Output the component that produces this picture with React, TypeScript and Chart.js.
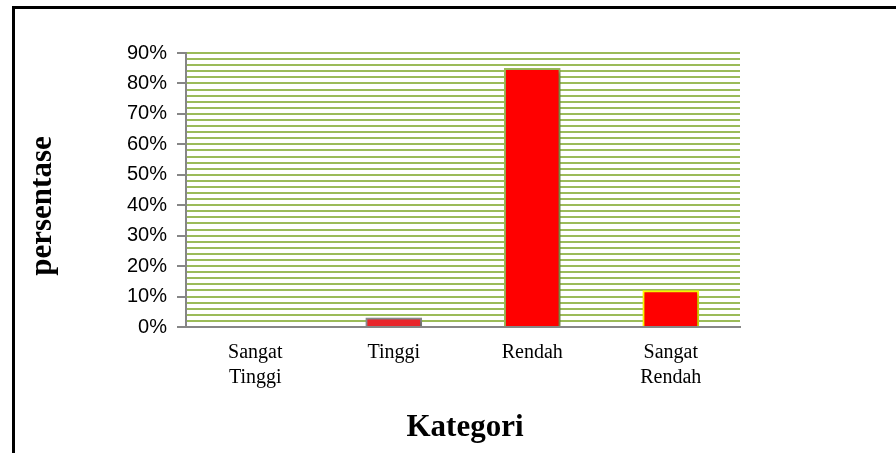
import React, { useEffect, useRef } from "react";
import { Chart, registerables } from "chart.js";

Chart.register(...registerables);

const categories: string[][] = [["Sangat", "Tinggi"], ["Tinggi"], ["Rendah"], ["Sangat", "Rendah"]];
const values: number[] = [0, 3, 85, 12];
const barFill: string[] = ["#FF0000", "#E8262B", "#FF0000", "#FF0000"];
const barBorder: string[] = ["#FF0000", "#8C8C8C", "#9BBB59", "#FFFF00"];
const yTitle = "persentase";
const xTitle = "Kategori";

const titlePlugin = {
  id: "axisTitles",
  afterDraw(chart: any) {
    const ctx = chart.ctx;
    ctx.save();
    ctx.fillStyle = "#000";
    ctx.textAlign = "center";
    ctx.textBaseline = "middle";
    ctx.font = "bold 31px 'Liberation Serif'";
    ctx.fillText(xTitle, 465, 428);
    ctx.translate(43, 206);
    ctx.rotate(-Math.PI / 2);
    ctx.font = "bold 31px 'Liberation Serif'";
    ctx.fillText(yTitle, 0, 0);
    ctx.restore();
  },
};

const shadowPlugin = {
  id: "barShadow",
  beforeDatasetsDraw(chart: any) {
    const ctx = chart.ctx;
    ctx.save();
    ctx.shadowColor = "rgba(0,0,0,0.35)";
    ctx.shadowBlur = 4;
    ctx.shadowOffsetX = 2;
    ctx.shadowOffsetY = 2;
  },
  afterDatasetsDraw(chart: any) {
    chart.ctx.restore();
  },
};

export default function App() {
  const ref = useRef<HTMLCanvasElement>(null);
  useEffect(() => {
    if (!ref.current) return;
    const chart = new Chart(ref.current, {
      type: "bar",
      data: {
        labels: categories as any,
        datasets: [
          {
            data: values,
            backgroundColor: barFill,
            borderColor: barBorder,
            borderWidth: 2,
            barThickness: 56,
          },
        ],
      },
      options: {
        animation: false,
        responsive: false,
        maintainAspectRatio: false,
        layout: { padding: { top: 53, right: 156, left: 0, bottom: 0 } },
        plugins: { legend: { display: false }, tooltip: { enabled: false } },
        scales: {
          x: {
            grid: { display: false, drawTicks: false },
            border: { display: true, color: "#868686", width: 2 },
            ticks: {
              color: "#000",
              padding: 13,
              font: { family: "'Liberation Serif'", size: 20, lineHeight: 1.25 },
              maxRotation: 0,
              autoSkip: false,
            },
            afterFit(scale: any) {
              scale.height = 126;
            },
          },
          y: {
            min: 0,
            max: 90,
            border: { display: true, color: "#868686", width: 2 },
            grid: {
              color: (c: any) => (c.tick && c.tick.value === 0 ? "transparent" : "#9BBB59"),
              lineWidth: 2,
              tickLength: 9,
              tickWidth: 2,
              tickColor: (c: any) => (c.tick && c.tick.value % 10 === 0 ? "#868686" : "transparent"),
            },
            ticks: {
              stepSize: 2,
              autoSkip: false,
              color: "#000",
              padding: 10,
              font: { family: "'Liberation Sans'", size: 20 },
              callback: (v: any) => (Number(v) % 10 === 0 ? v + "%" : ""),
            },
            afterFit(scale: any) {
              scale.width = 186;
            },
          },
        },
      },
      plugins: [shadowPlugin, titlePlugin],
    });
    return () => chart.destroy();
  }, []);
  return (
    <div style={{ position: "fixed", left: 0, top: 0, width: 896, height: 453, background: "#fff", overflow: "hidden" }}>
      <div
        style={{
          position: "absolute",
          left: 12,
          top: 6,
          width: 900,
          height: 470,
          border: "3px solid #000",
          boxSizing: "border-box",
        }}
      />
      <canvas ref={ref} width={896} height={453} style={{ position: "absolute", left: 0, top: 0 }} />
    </div>
  );
}
